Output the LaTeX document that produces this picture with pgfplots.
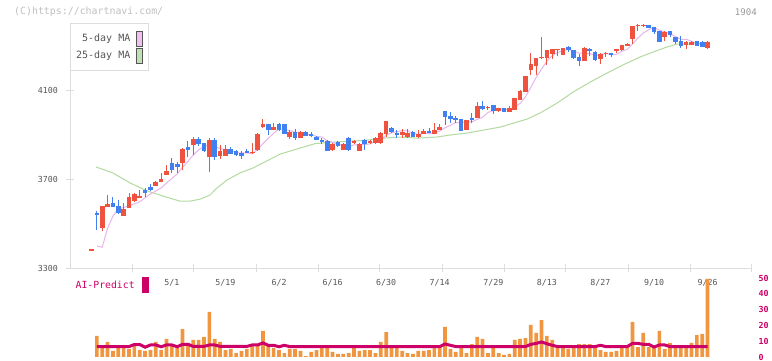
\documentclass[border=0pt]{standalone}
\usepackage{fontspec}
\setmainfont{DejaVu Sans Mono}
\usepackage{pgfplots}
\usepackage{pgfplotstable}
\pgfplotsset{compat=1.18}
\definecolor{cup}{RGB}{240,82,64}
\definecolor{cdn}{RGB}{64,128,240}
\definecolor{ma5}{RGB}{232,180,236}
\definecolor{ma25}{RGB}{178,218,160}
\definecolor{ma5sw}{RGB}{240,192,240}
\definecolor{ma25sw}{RGB}{192,226,178}
\definecolor{vol}{RGB}{240,150,64}
\definecolor{ai}{RGB}{204,0,102}
\definecolor{txt}{RGB}{85,85,85}
\definecolor{axl}{RGB}{221,221,221}

\pgfplotstableread{
i o h l c
0 3379 3386 3379 3386
2 3483 3581 3470 3581
3 3578 3631 3578 3590
6 3537 3595 3537 3568
7 3572 3640 3572 3622
8 3604 3640 3600 3635
9 3617 3653 3615 3626
12 3673 3692 3670 3689
13 3689 3730 3687 3703
14 3721 3766 3719 3739
17 3775 3842 3743 3838
19 3856 3892 3811 3883
22 3802 3888 3734 3879
24 3808 3856 3793 3830
25 3808 3856 3806 3840
30 3818 3865 3816 3826
31 3833 3910 3829 3906
32 3937 3973 3935 3951
34 3924 3955 3922 3937
37 3894 3924 3883 3915
39 3888 3917 3886 3915
45 3834 3865 3830 3861
47 3834 3863 3832 3861
49 3866 3878 3860 3875
50 3829 3863 3827 3861
52 3865 3878 3860 3874
53 3865 3892 3862 3888
54 3866 3915 3862 3912
55 3906 3966 3894 3964
58 3901 3928 3888 3915
59 3892 3928 3888 3910
61 3892 3924 3888 3906
62 3906 3928 3904 3919
64 3906 3955 3904 3924
65 3924 3951 3922 3937
70 3924 3971 3922 3969
72 3978 4050 3976 4032
74 4021 4032 4014 4027
76 4009 4025 4005 4023
78 4005 4032 4003 4023
79 4014 4068 4012 4068
80 4059 4104 4057 4100
81 4095 4167 4093 4167
82 4194 4271 4172 4221
83 4212 4248 4172 4248
84 4248 4343 4244 4253
85 4248 4284 4217 4284
86 4266 4289 4244 4289
87 4283 4291 4257 4289
88 4262 4294 4260 4294
92 4235 4298 4233 4294
95 4244 4271 4221 4266
96 4266 4275 4253 4271
98 4280 4291 4270 4289
99 4284 4309 4282 4307
100 4303 4316 4301 4311
101 4334 4395 4311 4393
102 4393 4400 4370 4397
103 4393 4402 4388 4397
107 4343 4370 4325 4366
111 4307 4325 4289 4321
112 4307 4323 4305 4321
115 4294 4325 4289 4321
}\up

\pgfplotstableread{
i o h l c
1 3549 3560 3473 3540
4 3594 3622 3578 3578
5 3581 3608 3545 3551
10 3653 3662 3622 3640
11 3667 3680 3650 3653
15 3775 3797 3728 3743
16 3770 3779 3730 3757
18 3847 3874 3802 3833
20 3883 3892 3852 3860
21 3865 3867 3825 3829
23 3879 3888 3790 3802
26 3840 3847 3815 3817
27 3830 3835 3808 3812
28 3821 3829 3793 3808
29 3830 3840 3819 3821
33 3951 3953 3901 3924
35 3951 3955 3920 3924
36 3951 3953 3904 3906
38 3915 3928 3879 3888
40 3915 3920 3895 3897
41 3906 3915 3894 3897
42 3894 3897 3878 3880
43 3880 3888 3861 3871
44 3874 3878 3828 3831
46 3870 3872 3846 3853
48 3888 3892 3829 3834
51 3879 3881 3834 3861
56 3933 3937 3912 3915
57 3910 3924 3888 3901
60 3915 3920 3890 3892
63 3919 3933 3908 3910
66 4009 4011 3946 3982
67 3987 4005 3955 3973
68 3978 3987 3955 3969
69 3973 3975 3917 3919
71 3978 4000 3955 3969
73 4032 4055 4014 4018
75 4036 4038 3996 4009
77 4023 4025 4003 4005
89 4298 4303 4275 4284
90 4284 4286 4244 4248
91 4253 4266 4212 4235
93 4289 4294 4257 4280
94 4275 4278 4235 4239
97 4271 4273 4255 4260
104 4397 4399 4382 4384
105 4388 4390 4357 4366
106 4370 4372 4321 4321
108 4370 4372 4344 4352
109 4343 4345 4312 4321
110 4325 4348 4294 4303
113 4325 4327 4301 4303
114 4321 4323 4296 4298
}\down

\begin{document}
\begin{tikzpicture}
\useasboundingbox (0,0) rectangle (772pt,361pt);
\begin{axis}[
  at={(70pt,92.7pt)}, anchor=south west,
  width=682pt, height=245pt, scale only axis,
  xmin=-4.013, xmax=123.29, ymin=3300, ymax=4405,
  axis lines=left, axis line style={draw=axl, line width=1pt, -},
  tick align=center, major tick length=8pt,
  tick style={draw=axl, line width=1pt},
  ytick={3300,3700,4100},
  xtick={7.56,19.13,30.71,42.28,53.85,65.43,77.0,88.57,100.15,111.72,123.28},
  xticklabels={},
  extra x ticks={15,25,35,45,55,65,75,85,95,105,115},
  extra x tick labels={5/1,5/19,6/2,6/16,6/30,7/14,7/29,8/13,8/27,9/10,9/26},
  extra x tick style={major tick length=0pt},
  /pgf/number format/assume math mode=true,
  /pgf/number format/1000 sep={},
  ticklabel style={font=\fontsize{8.3}{9}\selectfont, text=txt},
  yticklabel style={xshift=-4.5pt},
  xticklabel style={yshift=-8pt},
  clip=false,
]
\addplot[ma25, line width=1pt] coordinates {
(0.84,3757) (4,3730) (7.2,3685) (10.4,3649) (13.3,3626) (16.5,3603) (18.4,3603) (20.3,3612) (22.1,3630) (23.4,3662) (25.3,3698) (27.7,3730) (30.1,3752) (32.8,3785) (35.2,3815) (38.9,3842) (41.7,3862) (45.1,3869) (51.4,3878) (54.4,3887) (57.6,3892) (60.8,3887) (64.5,3892) (66.9,3901) (70.1,3910) (73.1,3923) (76.3,3937) (81.3,3973) (83.7,4000) (86.9,4045) (89.9,4095) (93.1,4140) (96.2,4180) (99.2,4217) (102.4,4253) (104.8,4275) (107.4,4298) (109.3,4311) (111.7,4311) (115,4316)
};
\addplot[ma5, line width=1pt] coordinates {
(1,3400) (2,3395) (3,3480) (4,3535) (5,3568) (6,3574) (7,3582) (8,3591) (9,3600) (10,3618) (11,3635) (12,3649) (13,3662) (14,3685) (15,3705) (16,3726) (17,3756) (18,3782) (19,3811) (20,3834) (21,3849) (22,3857) (23,3851) (24,3840) (25,3836) (26,3834) (27,3820) (28,3821) (29,3820) (30,3817) (31,3835) (32,3862) (33,3886) (34,3909) (35,3928) (36,3928) (37,3921) (38,3914) (39,3910) (40,3904) (41,3902) (42,3895) (43,3892) (44,3875) (45,3868) (46,3859) (47,3855) (48,3848) (49,3857) (50,3857) (51,3858) (52,3861) (53,3872) (54,3879) (55,3900) (56,3911) (57,3916) (58,3921) (59,3921) (60,3907) (61,3905) (62,3908) (63,3907) (64,3910) (65,3919) (66,3934) (67,3945) (68,3957) (69,3956) (70,3962) (71,3960) (72,3972) (73,3981) (74,4003) (75,4011) (76,4022) (77,4016) (78,4017) (79,4026) (80,4044) (81,4073) (82,4116) (83,4161) (84,4198) (85,4235) (86,4259) (87,4273) (88,4282) (89,4288) (90,4281) (91,4270) (92,4271) (93,4268) (94,4259) (95,4263) (96,4270) (97,4263) (98,4265) (99,4279) (100,4288) (101,4312) (102,4339) (103,4361) (104,4376) (105,4387) (106,4373) (107,4367) (108,4358) (109,4345) (110,4333) (111,4333) (112,4324) (113,4314) (114,4309) (115,4313)
};
% wicks
\addplot[draw=none, mark=none, forget plot, error bars/.cd, y dir=plus, y explicit, error mark=none, error bar style={draw=cup, line width=1pt}] table[x=i, y=l, y error plus expr=\thisrow{h}-\thisrow{l}] {\up};
\addplot[draw=none, mark=none, forget plot, error bars/.cd, y dir=plus, y explicit, error mark=none, error bar style={draw=cdn, line width=1pt}] table[x=i, y=l, y error plus expr=\thisrow{h}-\thisrow{l}] {\down};
% bodies
\addplot[draw=none, mark=none, forget plot, error bars/.cd, y dir=plus, y explicit, error mark=none, error bar style={draw=cup, line width=4.6pt}] table[x=i, y=o, y error plus expr=\thisrow{c}-\thisrow{o}] {\up};
\addplot[draw=none, mark=none, forget plot, error bars/.cd, y dir=plus, y explicit, error mark=none, error bar style={draw=cdn, line width=4.6pt}] table[x=i, y=c, y error plus expr=\thisrow{o}-\thisrow{c}] {\down};
\end{axis}

\begin{axis}[
  at={(70pt,4pt)}, anchor=south west,
  width=682pt, height=79pt, scale only axis,
  xmin=-4.013, xmax=123.29, ymin=0, ymax=50,
  axis x line=none, axis y line=right,
  y axis line style={draw=none, -},
  ytick={0,10,20,30,40,50},
  y tick style={draw=none},
  /pgf/number format/assume math mode=true,
  yticklabel style={font=\bfseries\fontsize{8.3}{9}\selectfont, text=ai, xshift=1pt},
  clip=false,
]
\addplot[ybar, bar width=3.7pt, fill=vol, draw=none] coordinates {
(1,13.3) (2,6.1) (3,9.5) (4,3.8) (5,6.1) (6,6.1) (7,5.1) (8,7.0) (9,4.4) (10,3.8) (11,4.4) (12,9.5) (13,4.4) (14,11.4) (15,7.0) (16,6.1) (17,17.7) (18,8.9) (19,10.8) (20,10.8) (21,12.7) (22,28.5) (23,11.4) (24,9.5) (25,4.4) (26,5.1) (27,2.5) (28,3.8) (29,5.1) (30,7.0) (31,7.0) (32,16.5) (33,7.0) (34,5.7) (35,4.4) (36,2.5) (37,5.1) (38,5.1) (39,3.8) (40,0.6) (41,3.2) (42,4.4) (43,7.0) (44,7.0) (45,3.2) (46,1.9) (47,1.9) (48,2.5) (49,6.3) (50,3.8) (51,4.4) (52,4.4) (53,2.5) (54,9.5) (55,15.8) (56,7.0) (57,7.0) (58,3.8) (59,2.5) (60,1.9) (61,3.8) (62,3.8) (63,4.4) (64,6.3) (65,6.3) (66,19.0) (67,5.1) (68,3.2) (69,6.3) (70,2.5) (71,8.2) (72,12.7) (73,11.4) (74,2.5) (75,6.3) (76,2.5) (77,1.3) (78,1.9) (79,10.8) (80,11.4) (81,12.0) (82,20.3) (83,15.2) (84,23.4) (85,13.3) (86,10.8) (87,6.3) (88,6.3) (89,5.1) (90,6.3) (91,8.2) (92,8.2) (93,8.2) (94,6.3) (95,4.4) (96,3.2) (97,3.2) (98,3.8) (99,6.3) (100,6.3) (101,22.2) (102,6.3) (103,15.2) (104,6.3) (105,6.3) (106,16.5) (107,5.1) (108,8.9) (109,6.3) (110,6.3) (111,6.3) (112,8.9) (113,13.9) (114,14.6) (115,49.4)
};
\addplot[ai, line width=3pt] coordinates {
(1,6.6) (7,6.6) (8,7.9) (9,7.9) (10,6.2) (11,7.6) (12,7.6) (13,6.5) (14,7.6) (15,7.6) (16,6.5) (17,8.0) (18,8.0) (19,6.7) (21,6.7) (22,7.6) (23,7.6) (24,6.7) (29,6.7) (30,7.6) (31,7.6) (32,8.9) (33,7.4) (34,7.4) (35,6.5) (36,7.4) (37,6.6) (65,6.6) (66,8.2) (67,7.4) (68,6.6) (81,6.6) (82,8.0) (83,8.6) (84,9.5) (85,8.4) (86,7.4) (87,6.6) (94,6.6) (95,7.4) (96,6.6) (100,6.6) (101,8.6) (102,8.6) (103,8.0) (104,8.0) (105,6.3) (106,7.6) (107,7.6) (108,6.6) (115,6.6)
};
\end{axis}

\node[anchor=west, inner sep=0pt, text=black!25, font=\fontsize{9.9}{10}\selectfont] at (14pt,349pt) {(C)https://chartnavi.com/};
\node[anchor=east, inner sep=0pt, text=black!40, font=\fontsize{9.1}{10}\selectfont] at (757pt,349pt) {1904};
\draw[axl, fill=white, line width=1pt] (70pt,337pt) rectangle (148pt,290pt);
\node[anchor=east, inner sep=0pt, text=txt, font=\fontsize{10}{11}\selectfont] at (130.5pt,322pt) {5-day MA};
\node[anchor=east, inner sep=0pt, text=txt, font=\fontsize{10}{11}\selectfont] at (130.5pt,305pt) {25-day MA};
\draw[txt, fill=ma5sw, line width=0.8pt] (136.5pt,330pt) rectangle (142.5pt,314.5pt);
\draw[txt, fill=ma25sw, line width=0.8pt] (136.5pt,312.5pt) rectangle (142.5pt,297.5pt);
\node[anchor=west, inner sep=0pt, text=ai, font=\fontsize{9.8}{10}\selectfont] at (75.5pt,76pt) {AI-Predict};
\fill[ai] (142pt,84.3pt) rectangle (149pt,68.3pt);
\end{tikzpicture}
\end{document}
